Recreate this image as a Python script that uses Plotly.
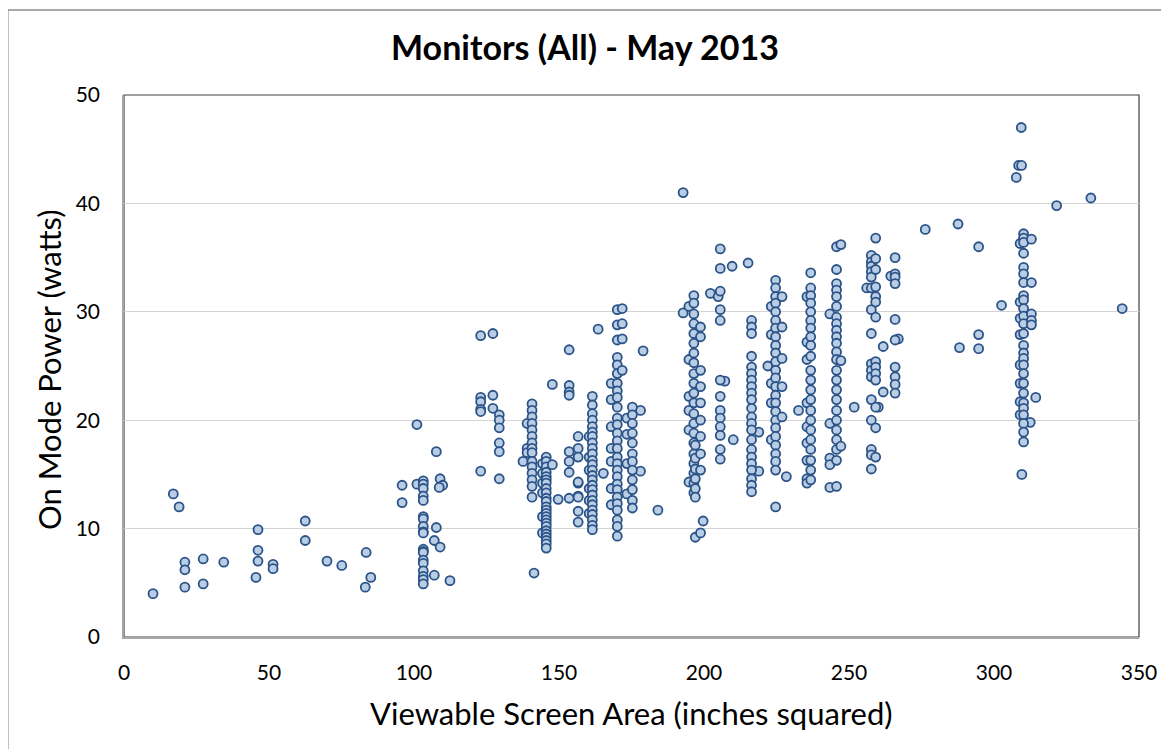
import plotly.graph_objects as go

# sparse points on the small screens and the big screens
small_area = [10, 17, 19, 21, 21, 21, 27.3, 27.3, 34.4, 46.2, 46.2, 46.2, 45.5,
              51.4, 51.4, 62.5, 62.5, 70, 75.1, 83.5, 85.1, 83.2, 95.9, 95.9,
              101, 101, 107.7, 109, 109.9, 108.7, 107.7, 107, 109, 107, 112.4,
              137.6, 141.4, 149.7, 163.5, 165.3, 179, 184.1, 178.1, 178.1]
small_power = [4.0, 13.2, 12.0, 6.9, 6.2, 4.6, 7.2, 4.9, 6.9, 9.9, 8.0, 7.0, 5.5,
               6.7, 6.3, 10.7, 8.9, 7.0, 6.6, 7.8, 5.5, 4.6, 14.0, 12.4,
               19.6, 14.1, 17.1, 14.6, 14.0, 13.8, 10.1, 8.9, 8.3, 5.7, 5.2,
               16.2, 5.9, 12.7, 28.4, 15.1, 26.4, 11.7, 15.3, 20.9]

big_area = [192.8, 192.8, 194.8, 199.7, 202.2, 204.9, 207.2, 209.7, 210.1, 215.2,
            218.9, 218.9, 222, 228.4, 232.6, 251.8, 256.1, 260.1, 261.8, 261.8,
            264.4, 267, 276.3, 287.6, 288.1, 294.7, 294.7, 294.7, 302.6, 307.7,
            308.5, 309.5, 309.4, 309.6, 312.5, 314.4, 321.6, 333.4, 344.2]
big_power = [41.0, 29.9, 30.5, 10.7, 31.7, 31.4, 23.6, 34.2, 18.2, 34.5,
             18.9, 15.3, 25.0, 14.8, 20.9, 21.2, 32.2, 21.2, 26.8, 22.6,
             33.3, 27.5, 37.6, 38.1, 26.7, 36.0, 27.9, 26.6, 30.6, 42.4,
             43.5, 43.5, 47.0, 15.0, 19.8, 22.1, 39.8, 40.5, 30.3]

# dense columns: (viewable area, on mode power of each model)
col_103 = (103.2, [14.4, 14.1, 13.7, 13.0, 12.6, 11.1, 10.9, 10.2, 9.7, 9.6,
                   8.1, 7.9, 7.8, 7.1, 6.8, 6.1, 5.6, 5.3, 4.9])
col_123 = (123, [27.8, 22.1, 21.7, 21.0, 20.8, 15.3])
col_127 = (127.2, [28.0, 22.3, 21.1])
col_129 = (129.4, [20.5, 20.0, 19.3, 17.9, 17.1, 14.6])
col_139 = (139, [19.7, 17.4, 17.0])
col_141 = (140.7, [21.5, 20.9, 20.3, 19.7, 19.1, 18.5, 17.9, 17.4, 17.0, 16.2,
                   15.7, 15.1, 14.5, 13.9, 12.9])
col_144 = (144.3, [16.0, 15.1, 14.2, 13.3, 11.1, 9.6])
col_146 = (145.6, [16.6, 16.2, 15.7, 15.2, 14.8, 14.5, 14.2, 13.7, 13.3, 12.8,
                   12.5, 12.0, 11.7, 11.4, 11.1, 10.8, 10.5, 10.2, 9.8, 9.5,
                   9.2, 8.9, 8.6, 8.2])
col_148 = (147.7, [15.9, 23.3])
col_153 = (153.5, [26.5, 23.2, 22.6, 22.3, 17.1, 16.2, 15.2, 12.8])
col_157 = (156.6, [18.5, 17.4, 16.6, 14.2, 13.0, 11.6, 10.6, 14.3, 12.9])
col_160 = (160.4, [18.5, 16.6, 15.4, 13.7, 12.6, 11.4])
col_162 = (161.5, [22.2, 21.4, 20.6, 20.0, 19.4, 18.9, 18.5, 17.9, 17.4, 16.9,
                   16.3, 15.9, 15.4, 14.9, 14.5, 14.0, 13.6, 13.1, 12.6, 12.2,
                   11.7, 11.3, 10.8, 10.3, 9.9])
col_168 = (168, [23.4, 21.9, 19.4, 17.4, 16.2, 13.7, 12.2])
col_170 = (170.1, [30.2, 28.8, 27.4, 25.8, 25.1, 24.3, 23.4, 22.7, 22.1, 21.2,
                   20.2, 19.6, 18.8, 18.1, 17.4, 16.6, 16.0, 15.4, 14.8, 14.1,
                   13.6, 12.9, 12.3, 11.7, 10.8, 10.2, 9.3])
col_172 = (171.8, [30.3, 28.9, 27.5, 24.6])
col_173 = (173.4, [20.2, 18.7, 16.0, 13.2])
col_175 = (175.3, [21.2, 20.5, 19.7, 18.8, 17.9, 16.9, 16.2, 15.4, 14.5, 13.6,
                   12.6, 11.9])
col_195 = (194.8, [25.6, 22.2, 20.9, 19.1, 14.3])
col_196 = (196.5, [31.5, 30.8, 29.8, 28.9, 28.0, 27.1, 26.2, 25.3, 24.3, 23.4,
                   22.5, 21.6, 20.6, 19.7, 18.8, 17.9, 16.9, 16.0, 15.1, 14.2,
                   13.3])
col_197 = (197, [17.7, 16.5, 15.5, 14.6, 13.7, 12.9, 9.2])
col_199 = (198.8, [9.6, 28.6, 27.7, 24.6, 23.1, 21.6, 20.0, 18.5, 16.9, 15.4])
col_206 = (205.6, [35.8, 34.0, 31.9, 30.2, 29.2, 23.7, 22.2, 20.9, 20.2, 19.4,
                   18.6, 17.3, 16.4])
col_216 = (216.4, [29.2, 28.6, 28.0, 25.9, 24.9, 24.3, 23.7, 23.1, 22.5, 21.9,
                   21.1, 20.3, 19.7, 19.1, 18.2, 17.3, 16.6, 16.0, 15.4, 14.6,
                   14.0, 13.4])
col_223 = (223.2, [30.5, 27.9, 23.4, 21.6, 18.2])
col_225 = (224.7, [32.9, 32.2, 31.4, 30.8, 30.0, 29.2, 28.5, 27.7, 26.9, 26.2,
                   25.4, 24.6, 23.9, 23.1, 22.3, 21.6, 20.8, 20.0, 19.3, 18.5,
                   17.7, 16.9, 16.2, 15.4, 12.0])
col_227 = (226.9, [31.4, 28.6, 25.7, 23.1, 20.3])
col_235 = (235.5, [31.4, 27.2, 25.6, 21.6, 19.4, 17.9, 16.3, 14.6, 14.2])
col_237 = (236.8, [33.6, 32.2, 31.5, 30.8, 30.0, 29.2, 28.5, 27.7, 26.9, 25.9,
                   24.6, 23.7, 22.8, 21.9, 20.9, 20.0, 19.1, 18.2, 17.3, 16.3,
                   15.4, 14.5])
col_243 = (243.4, [29.8, 19.7, 16.5, 15.9, 13.8])
col_246 = (245.7, [36.0, 33.9, 32.6, 32.0, 31.4, 30.5, 29.5, 28.9, 28.3, 27.7,
                   27.1, 26.3, 25.6, 24.6, 23.7, 22.8, 21.9, 20.9, 20.0, 19.1,
                   18.2, 17.3, 16.3, 13.9])
col_247 = (247.2, [36.2, 25.5, 17.6])
col_258 = (257.7, [35.2, 34.6, 34.2, 33.7, 33.2, 32.2, 30.2, 28.0, 25.2, 24.6,
                   24.0, 21.9, 20.0, 17.3, 16.8, 15.5])
col_259 = (259.2, [36.8, 34.9, 33.9, 32.3, 31.4, 30.9, 29.5, 25.4, 24.9, 24.3,
                   23.7, 21.2, 19.3, 16.6])
col_266 = (265.9, [35.0, 33.5, 33.2, 32.6, 29.3, 27.4, 24.9, 24.0, 23.3, 22.5])
col_309 = (309, [36.3, 30.9, 29.4, 27.9, 25.1, 23.4, 21.7, 20.5])
col_310 = (310.2, [37.2, 36.8, 36.4, 35.4, 34.1, 33.5, 32.7, 31.5, 31.1, 30.3,
                   29.6, 28.9, 28.0, 26.9, 26.2, 25.7, 25.1, 24.3, 23.4, 22.5,
                   21.6, 21.1, 20.5, 19.7, 18.9, 18.0])
col_313 = (312.9, [36.7, 32.7, 29.8, 29.2, 28.8])

columns = [col_103, col_123, col_127, col_129, col_139, col_141, col_144, col_146,
           col_148, col_153, col_157, col_160, col_162, col_168, col_170, col_172,
           col_173, col_175, col_195, col_196, col_197, col_199, col_206, col_216,
           col_223, col_225, col_227, col_235, col_237, col_243, col_246, col_247,
           col_258, col_259, col_266, col_309, col_310, col_313]

area = small_area + big_area
power = small_power + big_power
for a, ps in columns:
    area += [a] * len(ps)
    power += ps

FONT = "Lato, 'Noto Sans', sans-serif"

fig = go.Figure(go.Scatter(
    x=area, y=power, mode="markers",
    marker=dict(size=9, color="#b9cde5", line=dict(color="#2b5387", width=1.8)),
    cliponaxis=False,
))

# the page body adds 8px, so the figure is 8px smaller than the window
fig.update_layout(
    width=1161, height=741,
    margin=dict(l=116, r=28, t=87, b=112),
    paper_bgcolor="white", plot_bgcolor="white",
    showlegend=False,
    font=dict(family=FONT, color="#000000"),
    xaxis=dict(range=[0, 350], dtick=50, showgrid=False, zeroline=False,
               showline=True, linecolor="#a6a6a6", linewidth=1.5,
               ticks="", tickfont=dict(size=21), ticklabelstandoff=16),
    yaxis=dict(range=[0, 50], dtick=10, showgrid=True, gridcolor="#d4d4d4",
               gridwidth=1.2, zeroline=False,
               showline=True, linecolor="#a6a6a6", linewidth=1.5,
               ticks="", tickfont=dict(size=21), ticklabelstandoff=18),
    annotations=[
        dict(text="<b>Monitors (All) - May 2013</b>", xref="paper", yref="paper",
             x=0.454, y=1.0886, xanchor="center", yanchor="middle",
             showarrow=False, font=dict(size=34)),
        dict(text="Viewable Screen Area (inches squared)", xref="paper",
             yref="paper", x=0.5, y=-0.14, xanchor="center",
             yanchor="middle", showarrow=False, font=dict(size=31)),
        dict(text="On Mode Power (watts)", xref="paper", yref="paper",
             x=-0.0738, y=0.4926, xanchor="center", yanchor="middle",
             textangle=-90, showarrow=False, font=dict(size=31)),
    ],
    shapes=[
        # outer chart border
        dict(type="rect", xref="paper", yref="paper", x0=-0.1145, x1=1.0246,
             y0=-0.3, y1=1.1568, line=dict(color="#8c8c8c", width=1.5),
             layer="below"),
        # plot area border
        dict(type="rect", xref="paper", yref="paper", x0=0, x1=1, y0=0, y1=1,
             line=dict(color="#404040", width=1.2), layer="below"),
    ],
)

fig.write_html("out.html")
